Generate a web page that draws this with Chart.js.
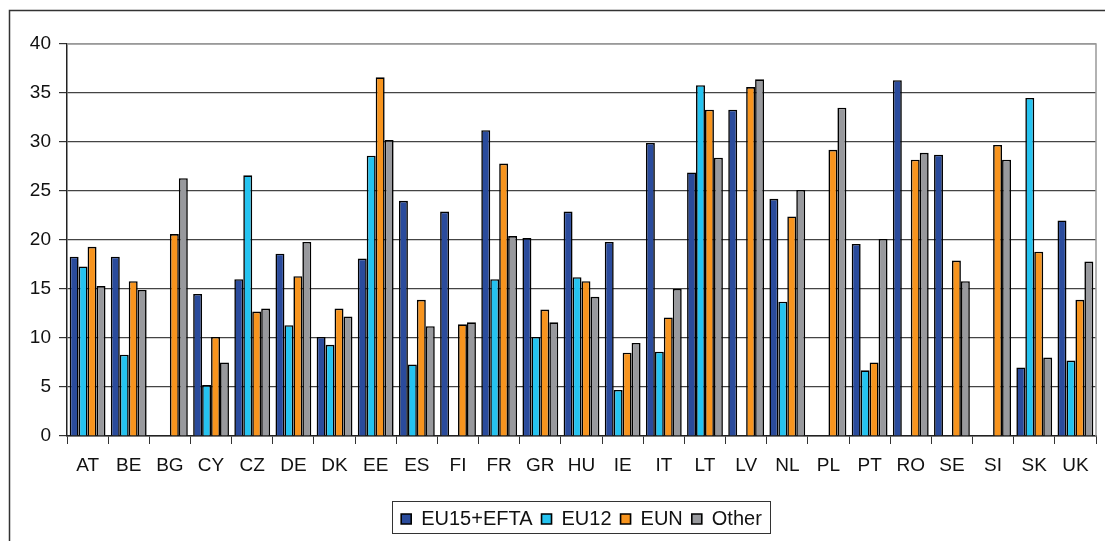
<!DOCTYPE html>
<html>
<head>
<meta charset="utf-8">
<script src="https://cdn.jsdelivr.net/npm/chart.js@4"></script>
<style>
    html, body { margin: 0; padding: 0; background: #fff; }
    #wrap { width: 1105px; height: 541px; position: relative; }
</style>
</head>
<body>
<div id="wrap"><canvas id="chart" width="1105" height="541"></canvas></div>
<script>
const countries = ["AT", "BE", "BG", "CY", "CZ", "DE", "DK", "EE", "ES", "FI", "FR", "GR", "HU",
    "IE", "IT", "LT", "LV", "NL", "PL", "PT", "RO", "SE", "SI", "SK", "UK"];

const eu15Efta = [18.3, 18.3, null, 14.5, 16.0, 18.6, 10.1, 18.1, 24.0, 22.9, 31.2, 20.2, 22.9,
    19.8, 29.9, 26.9, 33.3, 24.2, null, 19.6, 36.3, 28.7, null, 7.0, 22.0];
const eu12 = [17.3, 8.3, null, 5.2, 26.6, 11.3, 9.3, 28.6, 7.3, null, 16.0, 10.1, 16.2,
    4.7, 8.6, 35.8, null, 13.7, null, 6.7, null, null, null, 34.5, 7.7];
const eun = [19.3, 15.8, 20.6, 10.1, 12.7, 16.3, 13.0, 36.6, 13.9, 11.4, 27.8, 12.9, 15.8,
    8.5, 12.1, 33.3, 35.6, 22.4, 29.2, 7.5, 28.2, 17.9, 29.7, 18.8, 13.9];
const other = [15.3, 14.9, 26.3, 7.5, 13.0, 19.8, 12.2, 30.2, 11.2, 11.6, 20.4, 11.6, 14.2,
    9.5, 15.0, 28.4, 36.4, 25.1, 33.5, 20.1, 28.9, 15.8, 28.2, 8.0, 17.8];

const yTicks = [0, 5, 10, 15, 20, 25, 30, 35, 40];

const FONT = "'Liberation Sans', Arial, sans-serif";

// borders: outer frame, plot frame, legend box
const frames = {
    id: "frames",
    beforeDraw(chart) {
        const c = chart.ctx;
        c.save();
        c.fillStyle = "#fff";
        c.fillRect(0, 0, chart.width, chart.height);
        c.strokeStyle = "#333";
        c.lineWidth = 1.5;
        c.strokeRect(9.5, 10.5, 1200, 600);
        c.restore();
    },
    afterDraw(chart) {
        const c = chart.ctx;
        const a = chart.chartArea;
        c.save();
        c.strokeStyle = "#999";
        c.lineWidth = 1.5;
        c.beginPath();
        c.moveTo(a.left, a.top);
        c.lineTo(a.right, a.top);
        c.lineTo(a.right, a.bottom);
        c.stroke();

        const boxes = chart.legend.legendHitBoxes;
        if (boxes && boxes.length) {
            const first = boxes[0];
            const last = boxes[boxes.length - 1];
            c.strokeStyle = "#333";
            c.lineWidth = 1;
            c.strokeRect(Math.round(first.left - 9) + 0.5, Math.round(first.top - 8) + 0.5,
                Math.round(last.left + last.width - first.left + 17), Math.round(first.height + 12));
        }
        c.restore();
    }
};

const ctx = document.getElementById("chart").getContext("2d");

new Chart(ctx, {
    type: "bar",
    data: {
        labels: countries,
        datasets: [
            { label: "EU15+EFTA", data: eu15Efta, backgroundColor: "#2A4B9C" },
            { label: "EU12", data: eu12, backgroundColor: "#25C3F0" },
            { label: "EUN", data: eun, backgroundColor: "#F7941E" },
            { label: "Other", data: other, backgroundColor: "#98999D" }
        ].map(d => Object.assign(d, {
            borderColor: "#000",
            borderWidth: 1.6,
            categoryPercentage: 0.87,
            barPercentage: 1.0
        }))
    },
    options: {
        responsive: false,
        animation: false,
        layout: { padding: { top: 44, right: 9, left: 0, bottom: 2 } },
        plugins: {
            tooltip: { enabled: false },
            legend: {
                position: "bottom",
                fullSize: false,
                labels: {
                    color: "#111",
                    font: { family: FONT, size: 20 },
                    boxWidth: 10,
                    boxHeight: 10,
                    padding: 9
                }
            }
        },
        scales: {
            x: {
                grid: {
                    drawOnChartArea: false,
                    drawTicks: true,
                    tickLength: 8,
                    tickColor: "#333",
                    offset: true
                },
                border: { color: "#222", width: 1.5 },
                ticks: {
                    color: "#111",
                    font: { family: FONT, size: 19 },
                    padding: 10,
                    maxRotation: 0,
                    autoSkip: false
                },
                afterFit: scale => { scale.height = 64; }
            },
            y: {
                min: 0,
                max: 40,
                afterBuildTicks: scale => { scale.ticks = yTicks.map(v => ({ value: v })); },
                grid: {
                    color: c => (c.tick && c.tick.value === 40 ? "#999" : "#444"),
                    tickColor: "#333",
                    tickLength: 8,
                    lineWidth: 1.2
                },
                border: { color: "#222", width: 1.5 },
                ticks: {
                    color: "#111",
                    font: { family: FONT, size: 19 },
                    padding: 8
                },
                afterFit: scale => { scale.width = 67; }
            }
        }
    },
    plugins: [frames]
});
</script>
</body>
</html>
